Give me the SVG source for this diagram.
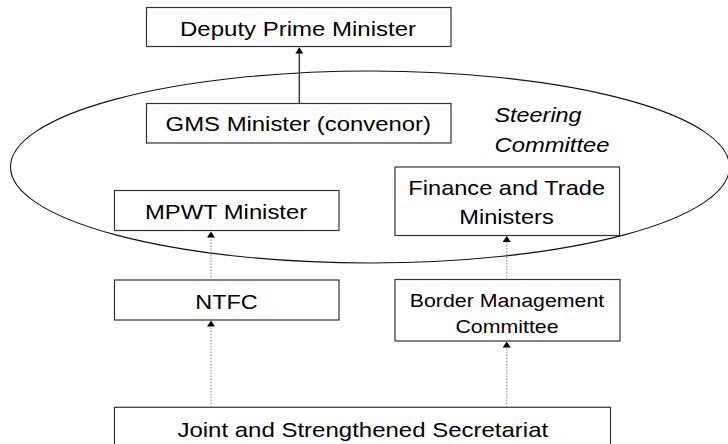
<svg xmlns="http://www.w3.org/2000/svg" width="728" height="444" viewBox="0 0 728 444">
<style>
.box{fill:#fff;stroke:#333;stroke-width:1.2}
.t{font-family:"Liberation Sans",Arial,sans-serif;font-size:20px;fill:#000;text-anchor:middle}
.ts{font-family:"Liberation Sans",Arial,sans-serif;font-size:17.5px;fill:#000;text-anchor:middle}
.ti{font-family:"Liberation Sans",Arial,sans-serif;font-size:20px;font-style:italic;fill:#000}
.solid{stroke:#444;stroke-width:1.6;fill:none}
.dot{stroke:#999;stroke-width:1.2;stroke-dasharray:1.5 1.5;fill:none}
</style>
<defs>
<marker id="ah" viewBox="0 0 6 8" refX="6" refY="4" markerWidth="6" markerHeight="8" markerUnits="userSpaceOnUse" orient="auto">
<path d="M0,0 L6,4 L0,8 Z" fill="#000"/>
</marker>
</defs>
<rect width="728" height="444" fill="#fff"/>
<g id="steering-committee">
<ellipse cx="370" cy="167" rx="359.5" ry="96" fill="none" stroke="#111" stroke-width="1.1"/>
<text class="ti" transform="translate(494.5 122) scale(1.17 1)" x="0" y="0">Steering</text>
<text class="ti" transform="translate(494.5 152) scale(1.19 1)" x="0" y="0">Committee</text>
</g>
<g id="deputy-prime-minister">
<rect class="box" x="146.5" y="7.5" width="304.5" height="39"/>
<text class="t" transform="translate(298 36) scale(1.2 1)">Deputy Prime Minister</text>
</g>
<g id="gms-minister">
<rect class="box" x="146.5" y="103.5" width="304.5" height="39.5"/>
<text class="t" transform="translate(298.3 131) scale(1.195 1)">GMS Minister (convenor)</text>
</g>
<g id="mpwt-minister">
<rect class="box" x="114.5" y="190.5" width="224.5" height="40"/>
<text class="t" transform="translate(226 219.3) scale(1.19 1)">MPWT Minister</text>
</g>
<g id="finance-trade-ministers">
<rect class="box" x="395" y="167" width="224.5" height="68.5"/>
<text class="t" transform="translate(506.7 195.3) scale(1.18 1)">Finance and Trade</text>
<text class="t" transform="translate(506.5 224) scale(1.18 1)">Ministers</text>
</g>
<g id="ntfc">
<rect class="box" x="114.5" y="280" width="224.5" height="40"/>
<text class="t" transform="translate(226.5 309) scale(1.17 1)">NTFC</text>
</g>
<g id="border-management-committee">
<rect class="box" x="395" y="279.5" width="225" height="61.5"/>
<text class="ts" transform="translate(507 306.5) scale(1.22 1)">Border Management</text>
<text class="ts" transform="translate(507 332.7) scale(1.22 1)">Committee</text>
</g>
<g id="joint-secretariat">
<rect class="box" x="114.5" y="407.3" width="496" height="40"/>
<text class="t" transform="translate(362.8 436.7) scale(1.2 1)">Joint and Strengthened Secretariat</text>
</g>
<g id="connectors">
<line class="solid" x1="299.3" y1="103.5" x2="299.3" y2="47.5" marker-end="url(#ah)"/>
<line class="dot" x1="211" y1="280" x2="211" y2="231.5" marker-end="url(#ah)"/>
<line class="dot" x1="506.7" y1="279.5" x2="506.7" y2="236" marker-end="url(#ah)"/>
<line class="dot" x1="211" y1="407.3" x2="211" y2="320.5" marker-end="url(#ah)"/>
<line class="dot" x1="506.7" y1="407.3" x2="506.7" y2="341.5" marker-end="url(#ah)"/>
</g>
</svg>
